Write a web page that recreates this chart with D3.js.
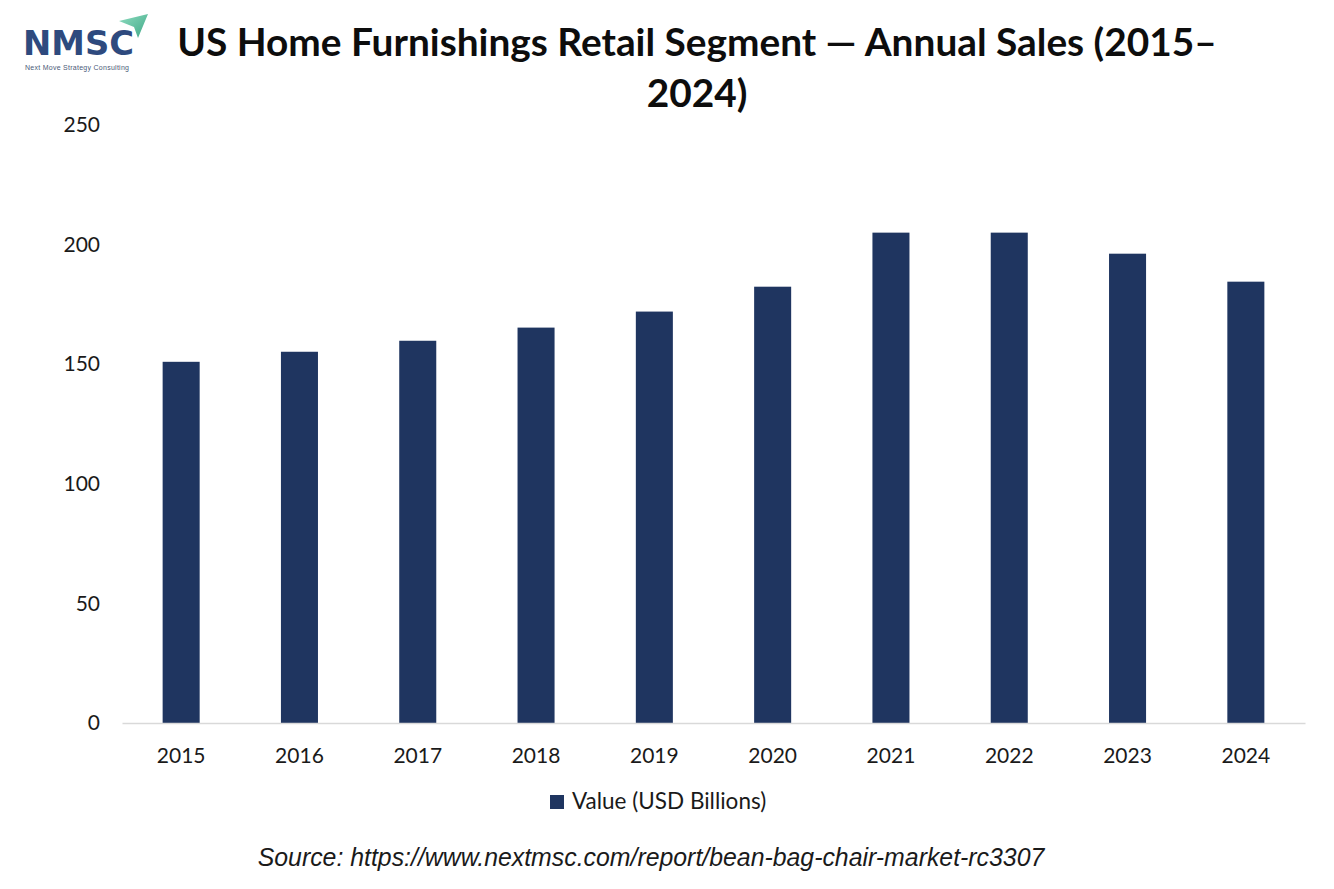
<!DOCTYPE html>
<html>
<head>
<meta charset="utf-8">
<script src="https://cdn.jsdelivr.net/npm/d3@7"></script>
<style>
  body { margin: 0; background: #fff; }
</style>
</head>
<body>
<svg id="chart" width="1334" height="889"></svg>
<script>
// data
var years = ["2015", "2016", "2017", "2018", "2019", "2020", "2021", "2022", "2023", "2024"];
var sales = [151, 155.2, 159.8, 165.3, 172, 182.4, 205, 205, 196.2, 184.5];
var yTicks = [0, 50, 100, 150, 200, 250];
var seriesName = "Value (USD Billions)";
var titleLines = ["US Home Furnishings Retail Segment \u2014 Annual Sales (2015\u2013", "2024)"];
var sourceText = "Source: https://www.nextmsc.com/report/bean-bag-chair-market-rc3307";

var barColor = "#1f3560";
var labelFont = "Lato, 'Open Sans', sans-serif";
var svg = d3.select("#chart");

var margin = { top: 125, right: 29, bottom: 166, left: 122 };
var W = 1334, H = 889;

var x = d3.scaleBand()
   .domain(years)
   .range([margin.left, W - margin.right])
   .paddingInner(0.687)
   .paddingOuter(0.3435);

var y = d3.scaleLinear()
   .domain([0, 250])
   .range([H - margin.bottom, margin.top]);

// shrink/grow a text node's font so it spans the width seen in the reference
function fitWidth(sel, size, target) {
   var len = sel.node().getComputedTextLength();
   if (len > 0) sel.style("font-size", (size * target / len) + "px");
}

// bars
svg.append("g")
   .selectAll("rect")
   .data(sales)
   .join("rect")
   .attr("x", function(d, i) { return x(years[i]); })
   .attr("y", function(d) { return y(d); })
   .attr("width", x.bandwidth())
   .attr("height", function(d) { return y(0) - y(d); })
   .attr("fill", barColor);

// x axis line + labels
var xAxis = svg.append("g")
   .attr("transform", "translate(0," + y(0) + ")")
   .call(d3.axisBottom(x).tickSize(0).tickPadding(25).tickSizeOuter(0));
xAxis.select(".domain").attr("stroke", "#d9d9d9").attr("stroke-width", 1.5);
xAxis.selectAll("text")
   .style("font-family", labelFont)
   .style("font-size", "21px")
   .attr("fill", "#1a1a1a");

// y axis labels only
var yAxis = svg.append("g")
   .attr("transform", "translate(" + 100 + ",0)")
   .call(d3.axisLeft(y).tickValues(yTicks).tickSize(0).tickPadding(0));
yAxis.select(".domain").remove();
yAxis.selectAll("text")
   .style("font-family", labelFont)
   .style("font-size", "21px")
   .attr("fill", "#1a1a1a");

// title
var title = svg.append("g");
title.selectAll("text")
   .data(titleLines)
   .join("text")
   .attr("x", 697)
   .attr("y", function(d, i) { return 56 + i * 51; })
   .attr("text-anchor", "middle")
   .style("font-family", labelFont)
   .style("font-weight", "bold")
   .style("font-size", "36px")
   .attr("fill", "#0d0d0d")
   .text(function(d) { return d; });
var first = title.select("text");
var len = first.node().getComputedTextLength();
if (len > 0) title.selectAll("text").style("font-size", (36 * 1040 / len) + "px");

// legend
var legend = svg.append("g").attr("transform", "translate(550,795)");
legend.append("rect")
   .attr("width", 14).attr("height", 14)
   .attr("fill", barColor);
legend.append("text")
   .attr("x", 22).attr("y", 14)
   .style("font-family", labelFont)
   .style("font-size", "22.5px")
   .attr("fill", "#1a1a1a")
   .text(seriesName);

// source line
var source = svg.append("text")
   .attr("x", 651)
   .attr("y", 866)
   .attr("text-anchor", "middle")
   .style("font-family", "'Liberation Sans', Arial, sans-serif")
   .style("font-style", "italic")
   .style("font-size", "21px")
   .attr("fill", "#1a1a1a")
   .text(sourceText);
fitWidth(source, 21, 787);

// logo (top left)
var logo = svg.append("g");
var grad = svg.append("defs").append("linearGradient")
   .attr("id", "plane").attr("x1", "0").attr("y1", "0").attr("x2", "1").attr("y2", "1");
grad.append("stop").attr("offset", "0").attr("stop-color", "#8fdcc0");
grad.append("stop").attr("offset", "1").attr("stop-color", "#3ea886");
logo.append("path")
   .attr("d", "M119,21 L148,14 L138,38 L134,27 Z")
   .attr("fill", "url(#plane)");
logo.append("text")
   .attr("x", 23).attr("y", 55)
   .style("font-family", "'DejaVu Sans', sans-serif")
   .style("font-weight", "bold")
   .style("font-size", "33px")
   .attr("textLength", 111)
   .attr("lengthAdjust", "spacingAndGlyphs")
   .attr("fill", "#2e4a7e")
   .text("NMSC");
logo.append("text")
   .attr("x", 25).attr("y", 70)
   .style("font-family", "'Liberation Sans', Arial, sans-serif")
   .style("font-size", "7px")
   .attr("textLength", 104)
   .attr("fill", "#4a5a78")
   .text("Next Move Strategy Consulting");
</script>
</body>
</html>
